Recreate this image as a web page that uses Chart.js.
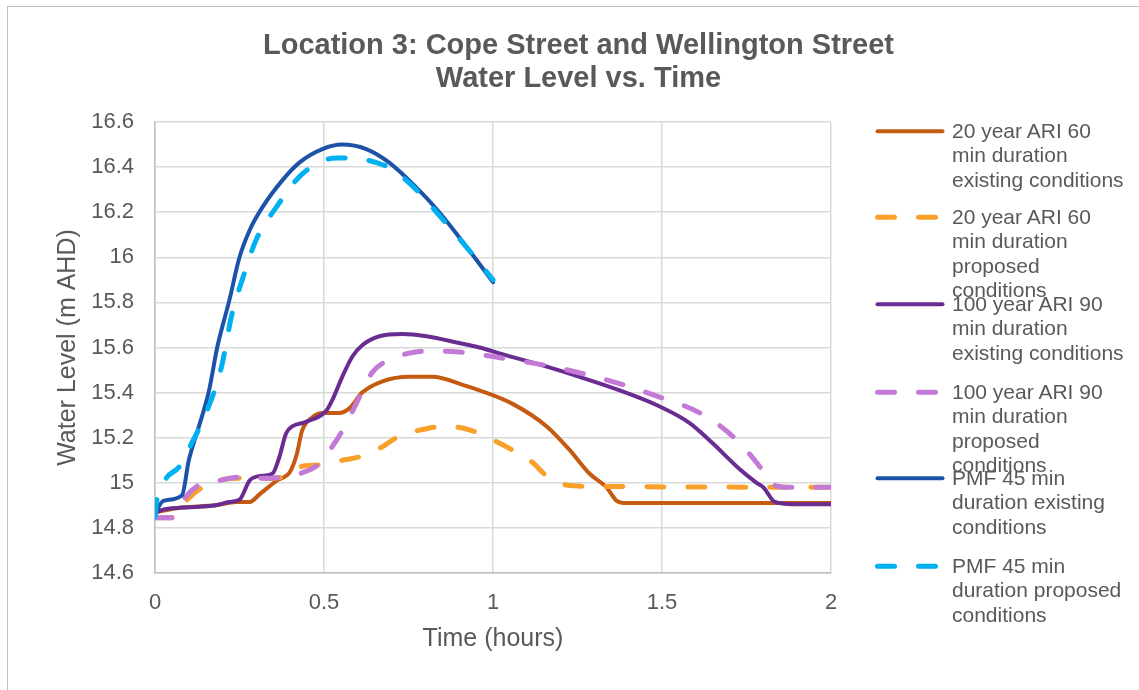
<!DOCTYPE html>
<html lang="en">
<head>
    <meta charset="UTF-8">
    <title>Location 3: Cope Street and Wellington Street</title>
    <script src="https://cdn.jsdelivr.net/npm/chart.js@4.4.1/dist/chart.umd.min.js"></script>
    <style>
        body { margin: 0; background: #fff; font-family: "Liberation Sans", Arial, sans-serif; }
        .wrap { position: relative; width: 1139px; height: 690px; overflow: hidden; }
        .frame { position: absolute; left: 7px; top: 6px; width: 1200px; height: 750px; border: 1px solid #bfbfbf; }
        canvas { position: absolute; left: 0; top: 0; }
        .title {
            position: absolute; left: 0; width: 1157px; top: 28px; white-space: nowrap;
            text-align: center; color: #595959; font-weight: bold; font-size: 29px; line-height: 33px;
        }
        .legend-item { position: absolute; left: 872px; }
        .legend-item svg { position: absolute; left: 0; top: 0; }
        .legend-item .txt {
            position: absolute; left: 80px; top: 0; white-space: nowrap;
            color: #595959; font-size: 21px; line-height: 24.5px;
        }
    </style>
</head>
<body>
<div class="wrap">
    <div class="frame"></div>
    <canvas id="levelChart" width="1139" height="690"></canvas>
    <div class="title">Location 3: Cope Street and Wellington Street<br>Water Level vs. Time</div>
    <div id="legend"></div>
</div>

<script>
    // 20 year ARI 60 min, existing
    const ari20ExTime = [0, 0.08, 0.18, 0.24, 0.28, 0.31, 0.36, 0.40, 0.42, 0.435, 0.465, 0.495, 0.545, 0.575, 0.613, 0.673, 0.753, 0.82, 0.92, 0.96, 1.058, 1.159, 1.227, 1.286, 1.336, 1.366, 1.396, 2.0];
    const ari20ExLevel = [14.87, 14.89, 14.90, 14.915, 14.915, 14.95, 15.01, 15.05, 15.13, 15.23, 15.29, 15.31, 15.31, 15.33, 15.40, 15.45, 15.47, 15.47, 15.43, 15.41, 15.35, 15.25, 15.145, 15.04, 14.98, 14.92, 14.91, 14.91];

    // 20 year ARI 60 min, proposed
    const ari20PrTime = [0, 0.05, 0.092, 0.13, 0.19, 0.25, 0.33, 0.377, 0.427, 0.486, 0.554, 0.605, 0.673, 0.714, 0.803, 0.862, 0.93, 1.0, 1.058, 1.117, 1.159, 1.217, 1.277, 2.0];
    const ari20PrLevel = [14.845, 14.845, 14.92, 14.97, 15.01, 15.02, 15.02, 15.025, 15.07, 15.08, 15.10, 15.115, 15.16, 15.20, 15.24, 15.25, 15.235, 15.19, 15.145, 15.09, 15.03, 14.99, 14.985, 14.98];

    // 100 year ARI 90 min, existing
    const ari100ExTime = [0, 0.021, 0.08, 0.18, 0.22, 0.25, 0.28, 0.31, 0.347, 0.367, 0.388, 0.406, 0.447, 0.507, 0.524, 0.554, 0.584, 0.613, 0.664, 0.732, 0.803, 0.90, 0.96, 1.04, 1.159, 1.256, 1.375, 1.484, 1.582, 1.65, 1.73, 1.78, 1.80, 1.834, 1.887, 2.0];
    const ari100ExLevel = [14.865, 14.88, 14.89, 14.90, 14.915, 14.925, 15.01, 15.03, 15.04, 15.11, 15.22, 15.25, 15.27, 15.32, 15.365, 15.47, 15.56, 15.61, 15.65, 15.66, 15.65, 15.62, 15.60, 15.565, 15.515, 15.47, 15.41, 15.345, 15.265, 15.175, 15.06, 15.0, 14.98, 14.915, 14.905, 14.905];

    // 100 year ARI 90 min, proposed
    const ari100PrTime = [0, 0.05, 0.092, 0.13, 0.19, 0.25, 0.317, 0.377, 0.436, 0.486, 0.524, 0.554, 0.595, 0.643, 0.693, 0.753, 0.813, 0.90, 1.0, 1.058, 1.159, 1.277, 1.384, 1.493, 1.612, 1.71, 1.79, 1.82, 1.878, 2.0];
    const ari100PrLevel = [14.845, 14.845, 14.94, 14.99, 15.01, 15.025, 15.02, 15.025, 15.045, 15.085, 15.16, 15.23, 15.35, 15.49, 15.545, 15.575, 15.585, 15.58, 15.56, 15.545, 15.52, 15.48, 15.435, 15.38, 15.31, 15.205, 15.07, 15.0, 14.98, 14.98];

    // PMF 45 min, existing
    const pmfExTime = [0, 0.025, 0.08, 0.10, 0.13, 0.16, 0.184, 0.22, 0.25, 0.28, 0.317, 0.376, 0.427, 0.495, 0.554, 0.625, 0.693, 0.773, 0.841, 0.92, 1.0];
    const pmfExLevel = [14.865, 14.92, 14.945, 15.1, 15.25, 15.41, 15.6, 15.81, 16.0, 16.12, 16.22, 16.34, 16.42, 16.48, 16.50, 16.48, 16.42, 16.31, 16.20, 16.05, 15.89];

    // PMF 45 min, proposed
    const pmfPrTime = [0, 0.005, 0.033, 0.071, 0.11, 0.154, 0.196, 0.228, 0.258, 0.30, 0.358, 0.436, 0.536, 0.584, 0.655, 0.702, 0.773, 0.85, 0.93, 1.0];
    const pmfPrLevel = [14.85, 14.92, 15.02, 15.07, 15.18, 15.32, 15.51, 15.75, 15.9, 16.08, 16.22, 16.37, 16.44, 16.44, 16.42, 16.39, 16.30, 16.17, 16.03, 15.90];

    const legendLines = [
        ['20 year ARI 60', 'min duration', 'existing conditions'],
        ['20 year ARI 60', 'min duration', 'proposed', 'conditions'],
        ['100 year ARI 90', 'min duration', 'existing conditions'],
        ['100 year ARI 90', 'min duration', 'proposed', 'conditions'],
        ['PMF 45 min', 'duration existing', 'conditions'],
        ['PMF 45 min', 'duration proposed', 'conditions']
    ];
    const legendCentres = [131, 217, 304, 392, 478, 566];

    const xTicks = [0, 0.5, 1, 1.5, 2];
    const yMin = 14.6, yMax = 16.6, yStep = 0.2;

    const series = [
        { t: ari20ExTime, v: ari20ExLevel, color: '#C55A11', dashed: false },
        { t: ari20PrTime, v: ari20PrLevel, color: '#F9A02A', dashed: true },
        { t: ari100ExTime, v: ari100ExLevel, color: '#6A2C91', dashed: false },
        { t: ari100PrTime, v: ari100PrLevel, color: '#C27AD6', dashed: true },
        { t: pmfExTime, v: pmfExLevel, color: '#1C52A8', dashed: false },
        { t: pmfPrTime, v: pmfPrLevel, color: '#00B0F0', dashed: true }
    ];

    const datasets = series.map((s, i) => ({
        label: legendLines[i].join(' '),
        data: s.t.map((x, j) => ({ x: x, y: s.v[j] })),
        borderColor: s.color,
        borderWidth: s.dashed ? 5 : 4,
        borderDash: s.dashed ? [17, 24] : [],
        borderCapStyle: 'round',
        borderJoinStyle: 'round',
        cubicInterpolationMode: 'monotone',
        pointRadius: 0,
        fill: false,
        order: series.length - i
    }));

    // Excel style: 16 not 16.0
    const plainNumber = v => String(Number(Number(v).toFixed(2)));

    Chart.defaults.font.family = '"Liberation Sans", Arial, sans-serif';
    Chart.defaults.color = '#595959';

    const ctx = document.getElementById('levelChart').getContext('2d');
    const levelChart = new Chart(ctx, {
        type: 'line',
        data: { datasets: datasets },
        options: {
            responsive: false,
            animation: false,
            devicePixelRatio: 1,
            layout: { padding: { left: 20, top: 122, right: 308, bottom: 20 } },
            plugins: { legend: { display: false }, title: { display: false }, tooltip: { enabled: false } },
            scales: {
                x: {
                    type: 'linear',
                    min: 0, max: 2,
                    afterBuildTicks: axis => { axis.ticks = xTicks.map(v => ({ value: v })); },
                    afterFit: axis => { axis.height = 97; },
                    grid: { color: '#d9d9d9', lineWidth: 1.5, drawTicks: false },
                    border: { color: '#bfbfbf', width: 1.5 },
                    ticks: { font: { size: 22 }, padding: 17, color: '#595959', maxRotation: 0, callback: plainNumber },
                    title: { display: true, text: 'Time (hours)', font: { size: 25 }, color: '#595959', padding: { top: 0, bottom: 16 } }
                },
                y: {
                    min: yMin, max: yMax,
                    ticks: { stepSize: yStep, font: { size: 22 }, padding: 21, color: '#595959', callback: plainNumber },
                    afterFit: axis => { axis.width = 135; },
                    grid: { color: '#d9d9d9', lineWidth: 1.5, drawTicks: false },
                    border: { color: '#bfbfbf', width: 1.5 },
                    title: { display: true, text: 'Water Level (m AHD)', font: { size: 25 }, color: '#595959', padding: { top: 33, bottom: 0 } }
                }
            }
        }
    });

    // legend built from the datasets
    const legendEl = document.getElementById('legend');
    levelChart.data.datasets.forEach((ds, i) => {
        const item = document.createElement('div');
        item.className = 'legend-item';
        item.style.top = (legendCentres[i] - 12.25) + 'px';
        const dash = ds.borderDash.length ? ' stroke-dasharray="' + ds.borderDash.join(' ') + '"' : '';
        item.innerHTML =
            '<svg width="76" height="25"><line x1="5.5" y1="12.25" x2="70.5" y2="12.25" stroke="' + ds.borderColor +
            '" stroke-width="' + ds.borderWidth + '" stroke-linecap="round"' + dash + '/></svg>' +
            '<div class="txt">' + legendLines[i].join('<br>') + '</div>';
        legendEl.appendChild(item);
    });
</script>
</body>
</html>
